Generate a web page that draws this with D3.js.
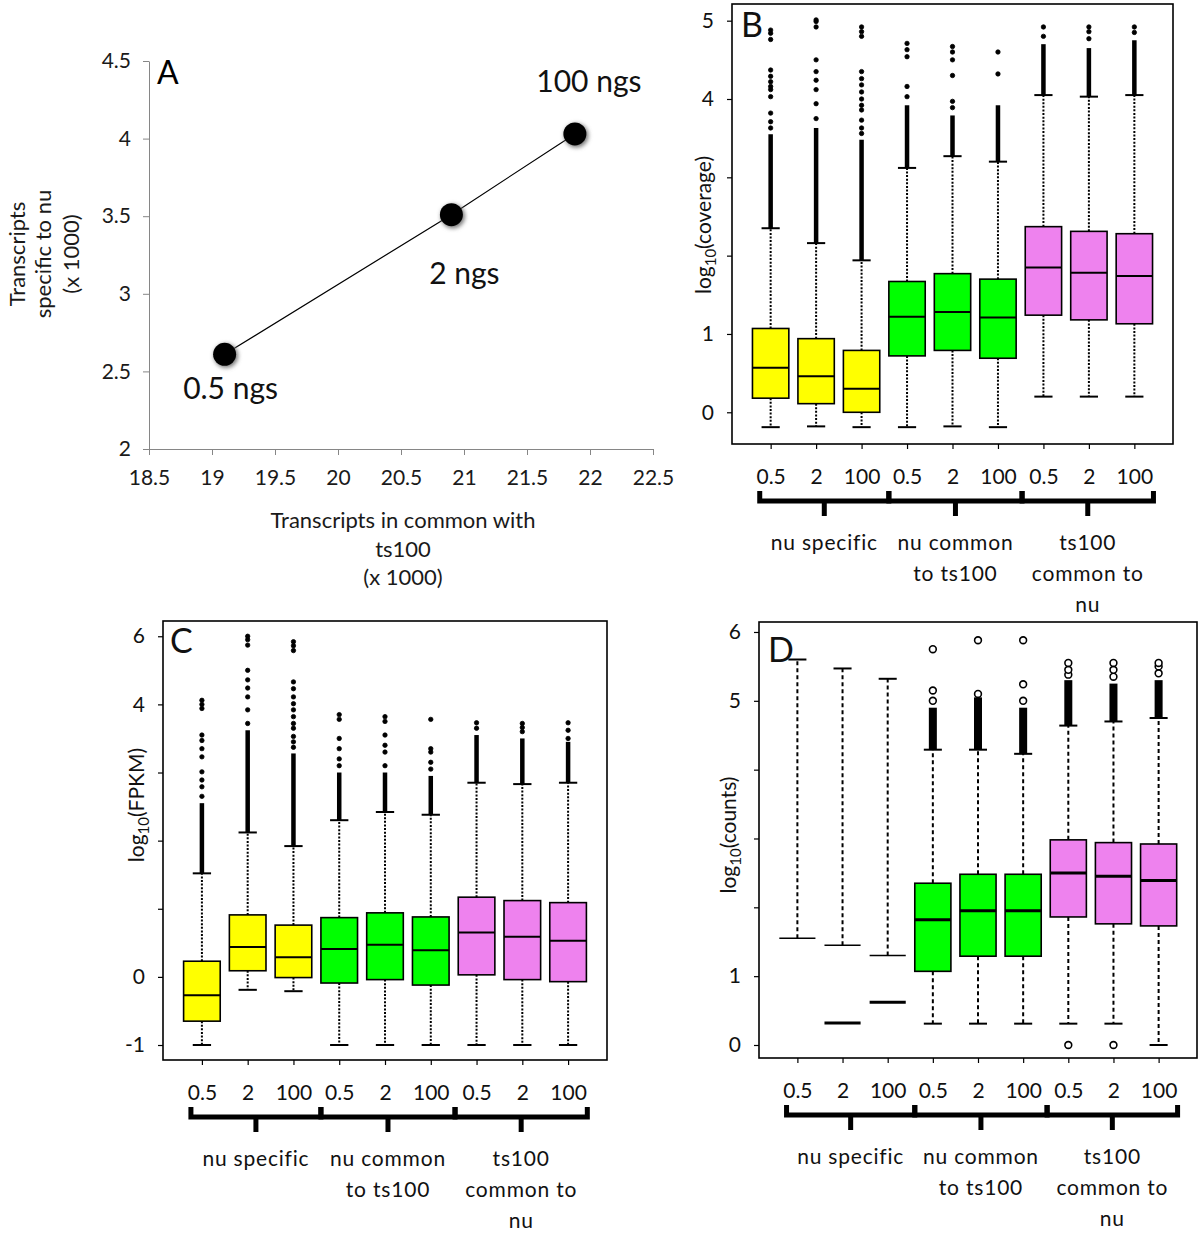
<!DOCTYPE html>
<html lang="en">
<head>
<meta charset="UTF-8">
<title>Transcripts</title>
<style>
  body { margin: 0; background: #fff; }
  svg { display: block; font-family: Lato, "Open Sans", sans-serif; }
</style>
</head>
<body>
<svg width="1200" height="1236"></svg>
<script src="https://d3js.org/d3.v7.min.js"></script>
<script>
// ---- panel A : specific vs common transcripts (x 1000)
var aX = [19.1, 20.9, 21.88];
var aY = [2.61, 3.51, 4.03];
var aLabels = ["0.5 ngs", "2 ngs", "100 ngs"];
var aXTicks = [18.5, 19, 19.5, 20, 20.5, 21, 21.5, 22, 22.5];
var aYTicks = [2, 2.5, 3, 3.5, 4, 4.5];

// ---- boxplot categories
var doses = ["0.5", "2", "100"];
var groupNames = [["nu specific"], ["nu common", "to ts100"], ["ts100", "common to", "nu"]];

// ---- panel B : log10(coverage)
var bQ1  = [0.18, 0.11, 0.00, 0.72, 0.79, 0.69, 1.24, 1.18, 1.13];
var bMed = [0.57, 0.46, 0.30, 1.22, 1.28, 1.21, 1.85, 1.78, 1.74];
var bQ3  = [1.07, 0.94, 0.79, 1.67, 1.77, 1.70, 2.37, 2.31, 2.28];
var bLo  = [-0.19, -0.18, -0.19, -0.19, -0.18, -0.19, 0.20, 0.20, 0.20];
var bHi  = [2.35, 2.16, 1.94, 3.12, 3.27, 3.20, 4.05, 4.03, 4.05];
var bDense = [[2.35, 3.55], [2.16, 3.63], [1.94, 3.48], [3.12, 3.92], [3.27, 3.79],
              [3.20, 3.92], [4.05, 4.70], [4.03, 4.65], [4.05, 4.75]];
var bOut = [
  [3.63, 3.71, 3.82, 4.03, 4.12, 4.16, 4.22, 4.29, 4.37, 4.76, 4.84, 4.88],
  [3.75, 3.94, 4.12, 4.24, 4.35, 4.50, 4.92, 4.99, 5.01],
  [3.56, 3.63, 3.73, 3.86, 3.92, 4.00, 4.09, 4.18, 4.26, 4.35, 4.80, 4.86, 4.92],
  [4.03, 4.16, 4.54, 4.63, 4.71],
  [3.89, 3.97, 4.30, 4.50, 4.60, 4.67],
  [4.32, 4.60],
  [4.80, 4.92],
  [4.77, 4.86, 4.92],
  [4.85, 4.92]
];
var bTicks = [0, 1, 2, 3, 4, 5];
var bTickLabels = ["0", "1", "", "", "4", "5"];

// ---- panel C : log10(FPKM) (tick positions, labels as printed)
var cQ1  = [-0.65, 0.09, -0.01, -0.09, -0.04, -0.12, 0.03, -0.04, -0.07];
var cMed = [-0.27, 0.44, 0.29, 0.41, 0.47, 0.39, 0.65, 0.59, 0.53];
var cQ3  = [0.23, 0.91, 0.76, 0.87, 0.94, 0.88, 1.17, 1.12, 1.09];
var cLo  = [-1, -0.19, -0.21, -1, -1, -1, -1, -1, -1];
var cHi  = [1.52, 2.12, 1.92, 2.30, 2.42, 2.38, 2.85, 2.83, 2.85];
var cDense = [[1.52, 2.55], [2.12, 3.62], [1.92, 3.28], [2.30, 3.00], [2.42, 3.00],
              [2.38, 2.95], [2.85, 3.55], [2.83, 3.50], [2.85, 3.45]];
var cOut = [
  [2.65, 2.79, 2.89, 3.01, 3.23, 3.35, 3.47, 3.55, 3.94, 4.00, 4.06],
  [3.72, 3.92, 4.11, 4.24, 4.36, 4.50, 4.87, 4.95, 5.00],
  [3.37, 3.45, 3.53, 3.65, 3.72, 3.82, 3.92, 4.01, 4.11, 4.23, 4.33, 4.79, 4.86, 4.92],
  [3.10, 3.20, 3.35, 3.50, 3.78, 3.85],
  [3.10, 3.30, 3.40, 3.55, 3.75, 3.82],
  [3.05, 3.15, 3.30, 3.35, 3.78],
  [3.65, 3.73],
  [3.60, 3.66, 3.72],
  [3.50, 3.62, 3.73]
];
var cTicks = [-1, 0, 1, 2, 3, 4, 5];
var cTickLabels = ["-1", "0", "", "", "", "4", "6"];

// ---- panel D : log10(counts)
var dQ1  = [null, null, null, 1.07, 1.29, 1.29, 1.86, 1.76, 1.73];
var dMed = [null, 0.32, 0.62, 1.82, 1.95, 1.95, 2.50, 2.45, 2.39];
var dQ3  = [1.55, 1.45, 1.30, 2.35, 2.48, 2.48, 2.98, 2.94, 2.92];
var dLo  = [null, null, null, 0.31, 0.31, 0.31, 0.31, 0.31, 0.00];
var dHi  = [5.60, 5.47, 5.32, 4.29, 4.29, 4.23, 4.64, 4.70, 4.75];
var dDense = [null, null, null, [4.29, 4.90], [4.29, 5.05], [4.23, 4.90],
              [4.64, 5.30], [4.70, 5.25], [4.75, 5.30]];
var dOut = [[], [], [], [5.00, 5.15, 5.75], [5.10, 5.88], [5.00, 5.24, 5.88],
            [5.38, 5.45, 5.55, 0.00], [5.35, 5.45, 5.55, 0.00], [5.40, 5.50, 5.55]];
var dTicks = [0, 1, 2, 3, 4, 5, 6];
var dTickLabels = ["0", "1", "", "", "", "5", "6"];

var groupFill = ["#ffff00", "#00ff00", "#ee82ee"];

var svg = d3.select("svg");
svg.append("rect").attr("width", 1200).attr("height", 1236).attr("fill", "#fff");

var defs = svg.append("defs");
defs.append("filter").attr("id", "soft")
  .attr("x", "-50%").attr("y", "-50%").attr("width", "200%").attr("height", "200%")
  .append("feGaussianBlur").attr("stdDeviation", 2.2);

// ================= panel A
(function () {
  var x = d3.scaleLinear().domain([18.5, 22.5]).range([149, 653]);
  var y = d3.scaleLinear().domain([2, 4.5]).range([449, 61]);
  var g = svg.append("g");

  var xa = g.append("g").attr("transform", "translate(0,449)")
    .call(d3.axisBottom(x).tickValues(aXTicks).tickFormat(d3.format("")).tickSize(6).tickPadding(15).tickSizeOuter(0));
  var ya = g.append("g").attr("transform", "translate(149,0)")
    .call(d3.axisLeft(y).tickValues(aYTicks).tickFormat(d3.format("")).tickSize(6).tickPadding(12).tickSizeOuter(0));
  [xa, ya].forEach(function (a) {
    a.select(".domain").attr("stroke", "#868686");
    a.selectAll(".tick line").attr("stroke", "#868686");
    a.selectAll("text").attr("fill", "#1a1a1a").style("font-size", "21px").style("font-family", "Lato, sans-serif");
  });

  var pts = aX.map(function (d, i) { return [x(d), y(aY[i])]; });
  g.append("path").attr("d", d3.line()(pts)).attr("fill", "none").attr("stroke", "#000").attr("stroke-width", 1.2);
  g.selectAll(".shadow").data(pts).enter().append("circle")
    .attr("cx", function (d) { return d[0] + 1.5; }).attr("cy", function (d) { return d[1] + 1.5; })
    .attr("r", 12).attr("fill", "#777").attr("filter", "url(#soft)");
  g.selectAll(".dot").data(pts).enter().append("circle")
    .attr("cx", function (d) { return d[0]; }).attr("cy", function (d) { return d[1]; })
    .attr("r", 11.5).attr("fill", "#000");

  var off = [[6, 45], [13, 69], [14, -42]]; // label offsets from points
  g.selectAll(".lab").data(aLabels).enter().append("text")
    .attr("x", function (d, i) { return pts[i][0] + off[i][0]; })
    .attr("y", function (d, i) { return pts[i][1] + off[i][1]; })
    .attr("text-anchor", "middle").style("font-size", "30px").attr("fill", "#111")
    .text(function (d) { return d; });

  g.append("text").attr("x", 157).attr("y", 84).style("font-size", "32px").text("A");

  var yt = ["Transcripts", "specific to nu", "(x 1000)"];
  var ytx = [17, 43, 71];
  yt.forEach(function (t, i) {
    g.append("text").attr("transform", "translate(" + (ytx[i] + 8) + ",254) rotate(-90)")
      .attr("text-anchor", "middle").style("font-size", "22px").attr("fill", "#1a1a1a").text(t);
  });
  var xt = ["Transcripts in common with", "ts100", "(x 1000)"];
  xt.forEach(function (t, i) {
    g.append("text").attr("x", 403).attr("y", 528 + i * 28.5)
      .attr("text-anchor", "middle").style("font-size", "22px").attr("fill", "#1a1a1a").text(t);
  });
})();

// ================= box panels
function boxPanel(c) {
  var x = d3.scaleLinear().domain([0.15, 9.85]).range([c.L, c.R]);
  var y = d3.scaleLinear().domain(c.yDomain).range([c.B, c.T]);
  var g = svg.append("g");
  var bw = (x(1.4) - x(1)); // half box width
  var idx = d3.range(9);

  // axes
  var ya = g.append("g").attr("transform", "translate(" + c.L + ",0)")
    .call(d3.axisLeft(y).tickValues(c.ticks).tickFormat(function (d, i) { return c.tickLabels[i]; })
      .tickSize(5).tickPadding(13).tickSizeOuter(0));
  var xa = g.append("g").attr("transform", "translate(0," + c.B + ")")
    .call(d3.axisBottom(x).tickValues(d3.range(1, 10)).tickFormat(function (d, i) { return doses[i % 3]; })
      .tickSize(5).tickPadding(20).tickSizeOuter(0));
  [ya, xa].forEach(function (a) {
    a.select(".domain").remove();
    a.selectAll(".tick line").attr("stroke", "#000").attr("stroke-width", 1.2);
    a.selectAll("text").attr("fill", "#111").style("font-size", "21px").style("font-family", "Lato, sans-serif");
  });

  // whiskers
  idx.forEach(function (i) {
    var cx = x(i + 1);
    var top = c.q3[i];
    g.append("line").attr("x1", cx).attr("x2", cx).attr("y1", y(top)).attr("y2", y(c.hi[i]))
      .attr("stroke", "#000").attr("stroke-width", 2).attr("stroke-dasharray", c.dash);
    g.append("line").attr("x1", cx - bw / 2).attr("x2", cx + bw / 2).attr("y1", y(c.hi[i])).attr("y2", y(c.hi[i]))
      .attr("stroke", "#000").attr("stroke-width", 2);
    if (c.lo[i] !== null) {
      g.append("line").attr("x1", cx).attr("x2", cx).attr("y1", y(c.q1[i])).attr("y2", y(c.lo[i]))
        .attr("stroke", "#000").attr("stroke-width", 2).attr("stroke-dasharray", c.dash);
      g.append("line").attr("x1", cx - bw / 2).attr("x2", cx + bw / 2).attr("y1", y(c.lo[i])).attr("y2", y(c.lo[i]))
        .attr("stroke", "#000").attr("stroke-width", 2);
    }
  });

  // boxes
  idx.forEach(function (i) {
    var cx = x(i + 1);
    if (c.q1[i] !== null) {
      g.append("rect").attr("x", cx - bw).attr("width", 2 * bw)
        .attr("y", y(c.q3[i])).attr("height", y(c.q1[i]) - y(c.q3[i]))
        .attr("fill", groupFill[Math.floor(i / 3)]).attr("stroke", "#000").attr("stroke-width", 1.6);
    } else {
      g.append("line").attr("x1", cx - bw).attr("x2", cx + bw).attr("y1", y(c.q3[i])).attr("y2", y(c.q3[i]))
        .attr("stroke", "#000").attr("stroke-width", 1.6);
    }
    if (c.med[i] !== null) {
      g.append("line").attr("x1", cx - bw).attr("x2", cx + bw).attr("y1", y(c.med[i])).attr("y2", y(c.med[i]))
        .attr("stroke", "#000").attr("stroke-width", c.medW);
    }
  });

  // outliers
  idx.forEach(function (i) {
    var cx = x(i + 1);
    if (c.dense[i]) {
      g.append("rect").attr("x", cx - c.denseW / 2).attr("width", c.denseW)
        .attr("y", y(c.dense[i][1])).attr("height", y(c.dense[i][0]) - y(c.dense[i][1]))
        .attr("fill", "#000");
    }
    g.selectAll(".o" + i).data(c.out[i]).enter().append("circle")
      .attr("cx", cx).attr("cy", function (d) { return y(d); })
      .attr("r", c.ptR).attr("fill", c.ptFill).attr("stroke", "#000").attr("stroke-width", c.ptStroke);
  });

  // frame
  g.append("rect").attr("x", c.L).attr("y", c.T).attr("width", c.R - c.L).attr("height", c.B - c.T)
    .attr("fill", "none").attr("stroke", "#000").attr("stroke-width", 1.6);

  // panel letter
  g.append("text").attr("x", c.L + c.letterDx).attr("y", c.T + c.letterDy)
    .style("font-size", "34px").attr("fill", "#111").text(c.letter);

  // y title
  var t = g.append("text").attr("transform", "translate(" + (c.titleX + 7) + "," + c.titleY + ") rotate(-90)")
    .attr("text-anchor", "middle").style("font-size", "21px").attr("fill", "#111");
  t.append("tspan").text("log");
  t.append("tspan").attr("dy", 5).style("font-size", "15px").text("10");
  t.append("tspan").attr("dy", -5).text(c.title);

  // brackets
  var edges = [0.76, 3.6, 6.53, 9.42];
  var yTop = c.B + 47, yLine = c.B + 57, yBot = c.B + 72;
  d3.range(3).forEach(function (k) {
    var x0 = x(edges[k]), x1 = x(edges[k + 1]), xm = (x0 + x1) / 2;
    g.append("path").attr("d", "M" + x0 + "," + yTop + "V" + yLine + "H" + x1 + "V" + yTop)
      .attr("fill", "none").attr("stroke", "#000").attr("stroke-width", 5).attr("stroke-linejoin", "miter");
    g.append("path").attr("d", "M" + xm + "," + yLine + "V" + yBot)
      .attr("stroke", "#000").attr("stroke-width", 5);
    groupNames[k].forEach(function (s, j) {
      g.append("text").attr("x", xm).attr("y", c.B + 106 + j * 31)
        .attr("text-anchor", "middle").style("font-size", "21px").style("letter-spacing", "0.8px")
        .attr("fill", "#111").text(s);
    });
  });
}

boxPanel({
  L: 732, R: 1173, T: 4, B: 444, yDomain: [-0.405, 5.213],
  ticks: bTicks, tickLabels: bTickLabels,
  q1: bQ1, med: bMed, q3: bQ3, lo: bLo, hi: bHi, dense: bDense, out: bOut,
  dash: "2,1.6", denseW: 4.5, ptR: 2.2, ptFill: "#000", ptStroke: 0.8, medW: 2,
  letter: "B", letterDx: 9, letterDy: 33, title: "(coverage)", titleX: 704, titleY: 225
});

boxPanel({
  L: 163, R: 607, T: 621, B: 1060, yDomain: [-1.22, 5.224],
  ticks: cTicks, tickLabels: cTickLabels,
  q1: cQ1, med: cMed, q3: cQ3, lo: cLo, hi: cHi, dense: cDense, out: cOut,
  dash: "2,1.6", denseW: 4.5, ptR: 2.2, ptFill: "#000", ptStroke: 0.8, medW: 2,
  letter: "C", letterDx: 7, letterDy: 32, title: "(FPKM)", titleX: 137, titleY: 805
});

boxPanel({
  L: 759, R: 1197, T: 622, B: 1058, yDomain: [-0.189, 6.145],
  ticks: dTicks, tickLabels: dTickLabels,
  q1: dQ1, med: dMed, q3: dQ3, lo: dLo, hi: dHi, dense: dDense, out: dOut,
  dash: "4,3", denseW: 8, ptR: 3.4, ptFill: "#fff", ptStroke: 1.6, medW: 3,
  letter: "D", letterDx: 9, letterDy: 40, title: "(counts)", titleX: 729, titleY: 835
});
</script>
</body>
</html>
